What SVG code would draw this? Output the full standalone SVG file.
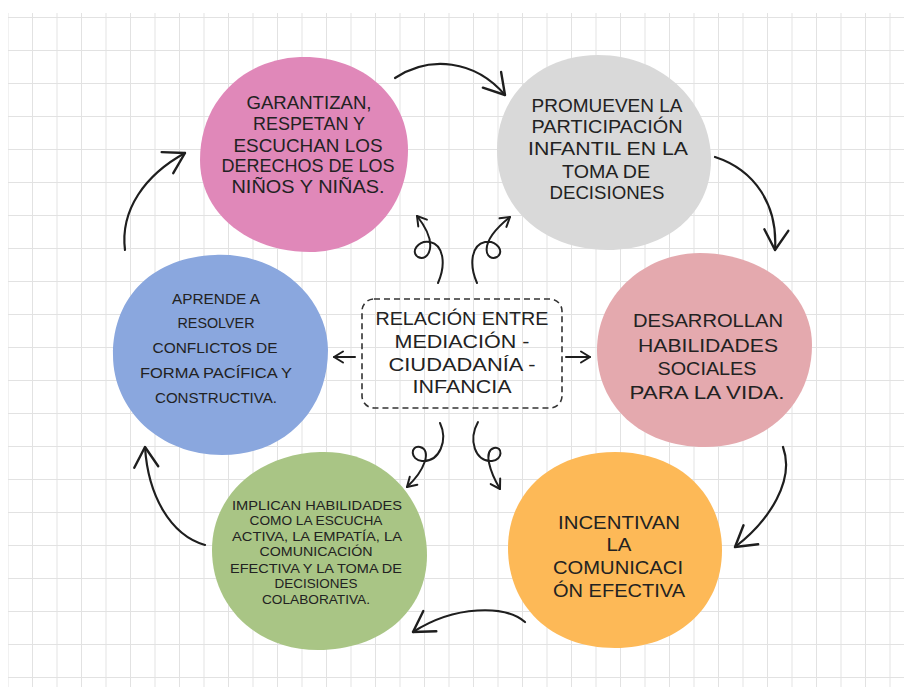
<svg xmlns="http://www.w3.org/2000/svg" width="904" height="687" viewBox="0 0 904 687">
<defs>
<pattern id="grid" patternUnits="userSpaceOnUse" x="7.5" y="17" width="24.5" height="33">
<path d="M0,0.5 H24.5 M0.5,0 V33" fill="none" stroke="#e2e2e2" stroke-width="1"/>
</pattern>
<marker id="big" markerUnits="userSpaceOnUse" viewBox="0 0 30 30" markerWidth="30" markerHeight="30" refX="25" refY="15" orient="auto">
<path d="M5,3 L25,15 L5,27" fill="none" stroke="#1e1e1e" stroke-width="2.4" stroke-linecap="round" stroke-linejoin="round"/>
</marker>
<marker id="small" markerUnits="userSpaceOnUse" viewBox="0 0 14 14" markerWidth="14" markerHeight="14" refX="12" refY="7" orient="auto">
<path d="M3,1.5 L12,7 L3,12.5" fill="none" stroke="#1e1e1e" stroke-width="2" stroke-linecap="round" stroke-linejoin="round"/>
</marker>
</defs>
<style>
.t{font-family:"Liberation Sans","DejaVu Sans",sans-serif;fill:#222;text-anchor:middle;}
.l{font-size:18px;}
.m{font-size:19px;}
.s{font-size:14px;}
.xs{font-size:13px;}
.a{fill:none;stroke:#1e1e1e;stroke-width:2.2;stroke-linecap:round;}
.c{fill:none;stroke:#1e1e1e;stroke-width:2;stroke-linecap:round;}
</style>
<rect width="904" height="687" fill="#ffffff"/>
<rect x="8" y="13" width="896" height="674" fill="url(#grid)"/>

<g id="connectors">
<path class="a" d="M395,78 C430,55 475,60 505,95" marker-end="url(#big)"/>
<path class="a" d="M715,157 C755,170 778,205 775,250" marker-end="url(#big)"/>
<path class="a" d="M783,447 C795,480 770,520 735,547" marker-end="url(#big)"/>
<path class="a" d="M525,622 C505,605 455,605 413,632" marker-end="url(#big)"/>
<path class="a" d="M205,545 C170,535 148,495 145,447" marker-end="url(#big)"/>
<path class="a" d="M125,250 C120,210 145,175 185,153" marker-end="url(#big)"/>
<path class="c" d="M438,283 C446,265 444,245 430,242 C418,240 410,252 418,257 C428,262 440,245 417,216" marker-end="url(#small)"/>
<path class="c" d="M477,283 C469,265 471,245 485,242 C497,240 505,252 497,257 C487,262 475,245 510,217" marker-end="url(#small)"/>
<path class="c" d="M440,423 C448,440 440,462 422,461 C410,460 410,445 420,447 C432,450 425,470 407,487" marker-end="url(#small)"/>
<path class="c" d="M478,422 C468,440 475,462 492,461 C503,460 503,446 494,448 C483,451 490,472 500,489" marker-end="url(#small)"/>
<path class="c" d="M355,357 L334,357" marker-end="url(#small)"/>
<path class="c" d="M566,357 L590,357" marker-end="url(#small)"/>
</g>

<g id="center">
<rect x="362" y="299" width="200" height="109" rx="12" fill="none" stroke="#333" stroke-width="1.6" stroke-dasharray="6 4"/>
<text class="t l" x="462" y="325" textLength="173" lengthAdjust="spacingAndGlyphs">RELACIÓN ENTRE</text>
<text class="t l" x="462" y="348" textLength="135" lengthAdjust="spacingAndGlyphs">MEDIACIÓN -</text>
<text class="t l" x="462" y="371" textLength="147" lengthAdjust="spacingAndGlyphs">CIUDADANÍA -</text>
<text class="t l" x="462" y="393" textLength="99" lengthAdjust="spacingAndGlyphs">INFANCIA</text>
</g>

<g id="n-pink">
<path d="M300,57 C360,55 408,95 408,150 C408,210 365,252 310,252 C250,252 200,215 200,160 C200,100 245,59 300,57Z" fill="#e088b9"/>
<text class="t l" x="309" y="109" textLength="125" lengthAdjust="spacingAndGlyphs">GARANTIZAN,</text>
<text class="t l" x="309" y="130" textLength="112" lengthAdjust="spacingAndGlyphs">RESPETAN Y</text>
<text class="t l" x="308" y="152" textLength="149" lengthAdjust="spacingAndGlyphs">ESCUCHAN LOS</text>
<text class="t l" x="308" y="172" textLength="173" lengthAdjust="spacingAndGlyphs">DERECHOS DE LOS</text>
<text class="t l" x="308" y="193" textLength="153" lengthAdjust="spacingAndGlyphs">NIÑOS Y NIÑAS.</text>
</g>

<g id="n-gray">
<path d="M598,55 C665,55 711,105 711,160 C711,215 665,250 608,250 C545,250 497,210 497,150 C497,95 540,55 598,55Z" fill="#d9d9d9"/>
<text class="t l" x="607" y="112" textLength="151" lengthAdjust="spacingAndGlyphs">PROMUEVEN LA</text>
<text class="t l" x="607" y="133" textLength="151" lengthAdjust="spacingAndGlyphs">PARTICIPACIÓN</text>
<text class="t l" x="608" y="155" textLength="160" lengthAdjust="spacingAndGlyphs">INFANTIL EN LA</text>
<text class="t l" x="606" y="178" textLength="88" lengthAdjust="spacingAndGlyphs">TOMA DE</text>
<text class="t l" x="607" y="199" textLength="115" lengthAdjust="spacingAndGlyphs">DECISIONES</text>
</g>

<g id="n-blue">
<path d="M215,255 C280,252 328,300 328,350 C328,410 285,455 222,455 C160,455 113,410 113,355 C113,295 155,257 215,255Z" fill="#8aa7de"/>
<text class="t s" x="216" y="304" textLength="88" lengthAdjust="spacingAndGlyphs">APRENDE A</text>
<text class="t s" x="216" y="328" textLength="77" lengthAdjust="spacingAndGlyphs">RESOLVER</text>
<text class="t s" x="215" y="353" textLength="125" lengthAdjust="spacingAndGlyphs">CONFLICTOS DE</text>
<text class="t s" x="216" y="378" textLength="152" lengthAdjust="spacingAndGlyphs">FORMA PACÍFICA Y</text>
<text class="t s" x="216" y="403" textLength="122" lengthAdjust="spacingAndGlyphs">CONSTRUCTIVA.</text>
</g>

<g id="n-rose">
<path d="M700,253 C765,253 812,295 812,345 C812,405 765,447 705,447 C640,447 597,405 597,350 C597,295 645,253 700,253Z" fill="#e4a9ae"/>
<text class="t m" x="708" y="327" textLength="150" lengthAdjust="spacingAndGlyphs">DESARROLLAN</text>
<text class="t m" x="708" y="352" textLength="140" lengthAdjust="spacingAndGlyphs">HABILIDADES</text>
<text class="t m" x="707" y="375" textLength="99" lengthAdjust="spacingAndGlyphs">SOCIALES</text>
<text class="t m" x="707" y="399" textLength="155" lengthAdjust="spacingAndGlyphs">PARA LA VIDA.</text>
</g>

<g id="n-green">
<path d="M320,452 C385,450 427,500 427,555 C427,612 380,650 318,650 C255,650 212,605 212,550 C212,495 258,454 320,452Z" fill="#a9c585"/>
<text class="t xs" x="317" y="510" textLength="170" lengthAdjust="spacingAndGlyphs">IMPLICAN HABILIDADES</text>
<text class="t xs" x="316" y="525" textLength="133" lengthAdjust="spacingAndGlyphs">COMO LA ESCUCHA</text>
<text class="t xs" x="317" y="541" textLength="170" lengthAdjust="spacingAndGlyphs">ACTIVA, LA EMPATÍA, LA</text>
<text class="t xs" x="316" y="556" textLength="113" lengthAdjust="spacingAndGlyphs">COMUNICACIÓN</text>
<text class="t xs" x="316" y="573" textLength="172" lengthAdjust="spacingAndGlyphs">EFECTIVA Y LA TOMA DE</text>
<text class="t xs" x="316" y="588" textLength="83" lengthAdjust="spacingAndGlyphs">DECISIONES</text>
<text class="t xs" x="316" y="604" textLength="108" lengthAdjust="spacingAndGlyphs">COLABORATIVA.</text>
</g>

<g id="n-orange">
<path d="M615,452 C680,452 722,495 722,550 C722,610 675,648 615,648 C550,648 508,605 508,548 C508,490 555,452 615,452Z" fill="#fdb957"/>
<text class="t m" x="619" y="529" textLength="122" lengthAdjust="spacingAndGlyphs">INCENTIVAN</text>
<text class="t m" x="619" y="551" textLength="25" lengthAdjust="spacingAndGlyphs">LA</text>
<text class="t m" x="618" y="574" textLength="130" lengthAdjust="spacingAndGlyphs">COMUNICACI</text>
<text class="t m" x="619" y="597" textLength="132" lengthAdjust="spacingAndGlyphs">ÓN EFECTIVA</text>
</g>
</svg>
